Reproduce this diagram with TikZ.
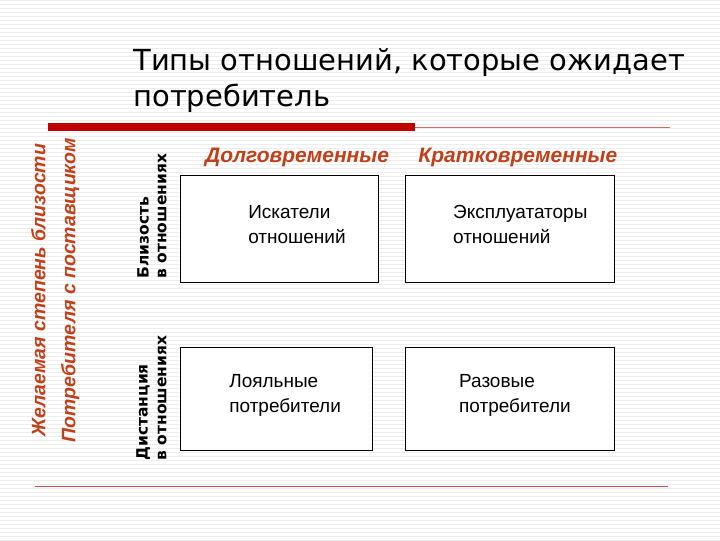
\documentclass[tikz,border=0pt]{standalone}
\usepackage{fontspec}
\setmainfont{Liberation Sans}
\newfontfamily\titlefont{DejaVu Sans}
\definecolor{accent}{HTML}{C0401A}
\definecolor{barred}{HTML}{C00000}
\begin{document}
\begin{tikzpicture}[x=1pt,y=-1pt,
  cell/.style={draw=black, line width=0.8pt, fill=white},
  hdr/.style={text=accent, font=\bfseries\itshape\fontsize{21}{24}\selectfont},
  side/.style={text=accent, font=\bfseries\itshape\fontsize{19.5}{22}\selectfont, rotate=90},
  axis/.style={font=\titlefont\bfseries\fontsize{15.5}{18}\selectfont, rotate=90, anchor=west},
  body/.style={font=\fontsize{19}{25}\selectfont, align=left, anchor=north west, inner sep=0pt}]
\fill[white] (0,0) rectangle (720,540);
\foreach \y in {0,4,...,540} \draw[black!7, line width=0.6pt] (0,\y) -- (720,\y);
\node[font=\titlefont\fontsize{29}{36}\selectfont, anchor=north west, align=left, inner sep=0pt] (title) at (133,48) {Типы отношений, которые ожидает\\потребитель};
\fill[barred] (48,123) rectangle (415,131);
\draw[barred!60, line width=0.6pt] (415,127) -- (670,127);
\draw[barred!70, line width=0.7pt] (35,486) -- (668,486);
\node[hdr] (h1) at (297,157) {Долговременные};
\node[hdr] (h2) at (518,157) {Кратковременные};
\node[cell, minimum width=198pt, minimum height=107pt, anchor=north west] (b1) at (180,175) {};
\node[cell, minimum width=209pt, minimum height=107pt, anchor=north west] (b2) at (405,175) {};
\node[cell, minimum width=192pt, minimum height=103pt, anchor=north west] (b3) at (180,347) {};
\node[cell, minimum width=209pt, minimum height=103pt, anchor=north west] (b4) at (405,347) {};
\node[body] (t1) at (248,205) {Искатели\\отношений};
\node[body] (t2) at (453,205) {Эксплуататоры\\отношений};
\node[body] (t3) at (229,374) {Лояльные\\потребители};
\node[body] (t4) at (459,374) {Разовые\\потребители};
\node[side] (s1) at (38,290) {Желаемая степень близости};
\node[side] (s2) at (70,290) {Потребителя с поставщиком};
\node[axis] (a1) at (143,282) {Близость};
\node[axis] (a2) at (162,282) {в отношениях};
\node[axis] (a3) at (143,464) {Дистанция};
\node[axis] (a4) at (162,464) {в отношениях};
\end{tikzpicture}
\end{document}
